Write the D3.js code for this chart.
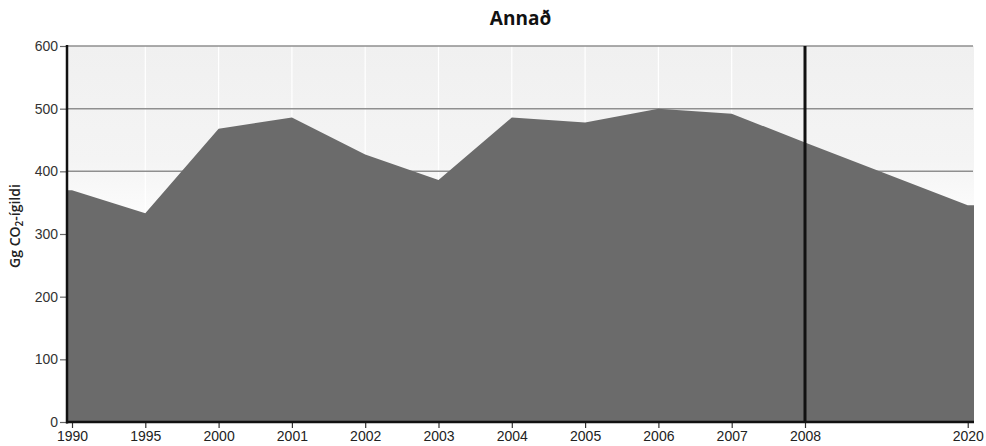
<!DOCTYPE html>
<html><head><meta charset="utf-8">
<script src="https://cdn.jsdelivr.net/npm/d3@7"></script>
<style>body{margin:0;background:#fff;} svg{display:block;}</style>
</head><body>
<svg id="c" width="986" height="446"></svg>
<script>
const categories = ["1990","1995","2000","2001","2002","2003","2004","2005","2006","2007","2008","2020"];
const slots = [0,1,2,3,4,5,6,7,8,9,10,12.22];
const values = [370,333,468,486,427,386,486,478,500,492,446,346];
const yTicks = [0,100,200,300,400,500,600];
const markerYear = "2008";
const title = "Annað";

const svg = d3.select("#c");
const L = 67, R = 974, T = 46, B = 422;
const x = d3.scaleLinear().domain([0,10]).range([72,805]);
const y = d3.scaleLinear().domain([0,600]).range([B,T]);
const font = "'Liberation Sans', Arial, sans-serif";

const defs = svg.append("defs");
const g = defs.append("linearGradient").attr("id","bg").attr("x1",0).attr("x2",0).attr("y1",0).attr("y2",1);
g.append("stop").attr("offset","0%").attr("stop-color","#f0f0f0");
g.append("stop").attr("offset","30%").attr("stop-color","#f4f4f4");
g.append("stop").attr("offset","50%").attr("stop-color","#ffffff");

svg.append("rect").attr("x",L).attr("y",T).attr("width",R-L).attr("height",B-T).attr("fill","url(#bg)");

// vertical white gridlines
svg.append("g").selectAll("line").data(categories.filter((c,i)=>i>0 && i<10))
  .join("line")
  .attr("x1",c=>x(slots[categories.indexOf(c)])).attr("x2",c=>x(slots[categories.indexOf(c)]))
  .attr("y1",T).attr("y2",B).attr("stroke","#fff").attr("stroke-width",1.2);

// horizontal gridlines
svg.append("g").selectAll("line").data(yTicks.filter(v=>v>0))
  .join("line").attr("x1",L).attr("x2",R-1).attr("y1",d=>y(d)).attr("y2",d=>y(d))
  .attr("stroke","#8f8f8f").attr("stroke-width",1.5);

// area
const pts = categories.map((c,i)=>({sx:x(slots[i]), v:values[i]}));
const ext = [{sx:L, v:values[0]}, ...pts, {sx:R, v:values[values.length-1]}];
const area = d3.area().x(d=>d.sx).y0(y(0)).y1(d=>y(d.v));
svg.append("path").datum(ext).attr("d",area).attr("fill","#6b6b6b");

// marker line
const mi = categories.indexOf(markerYear);
svg.append("line").attr("x1",x(slots[mi])).attr("x2",x(slots[mi])).attr("y1",T).attr("y2",B)
  .attr("stroke","#111").attr("stroke-width",3);

// y axis
const yAxis = svg.append("g").attr("transform",`translate(${L},0)`)
  .call(d3.axisLeft(y).tickValues(yTicks).tickSize(7).tickPadding(2));
yAxis.select(".domain").remove();
yAxis.selectAll(".tick line").attr("stroke","#666").attr("stroke-width",1.2);
yAxis.selectAll("text").attr("font-family",font).attr("font-size",14).attr("fill","#333");

// x axis
const xAxis = svg.append("g").attr("transform",`translate(0,${B})`)
  .call(d3.axisBottom(x).tickValues(slots).tickFormat((d,i)=>categories[i]).tickSize(6).tickPadding(3));
xAxis.select(".domain").remove();
xAxis.selectAll(".tick line").attr("stroke","#333").attr("stroke-width",1.2);
xAxis.selectAll("text").attr("font-family",font).attr("font-size",14).attr("fill","#222");

// axis lines
svg.append("line").attr("x1",L).attr("x2",L).attr("y1",T-1).attr("y2",B+1.5).attr("stroke","#111").attr("stroke-width",2.5);
svg.append("line").attr("x1",L-1).attr("x2",R).attr("y1",B).attr("y2",B).attr("stroke","#111").attr("stroke-width",2.5);

// title
svg.append("text").attr("x",(L+R)/2).attr("y",25).attr("text-anchor","middle")
  .attr("font-family","'Open Sans', sans-serif").attr("font-weight",700).attr("font-size",19).attr("fill","#111").text(title);

// y label
const yl = svg.append("text").attr("transform",`translate(20,226) rotate(-90)`).attr("text-anchor","middle")
  .attr("font-family","'Open Sans', sans-serif").attr("font-weight",600).attr("font-size",14).attr("fill","#222");
yl.append("tspan").text("Gg CO");
yl.append("tspan").attr("font-size",10).attr("dy",3).text("2");
yl.append("tspan").attr("dy",-3).text("-ígildi");
</script>
</body></html>
